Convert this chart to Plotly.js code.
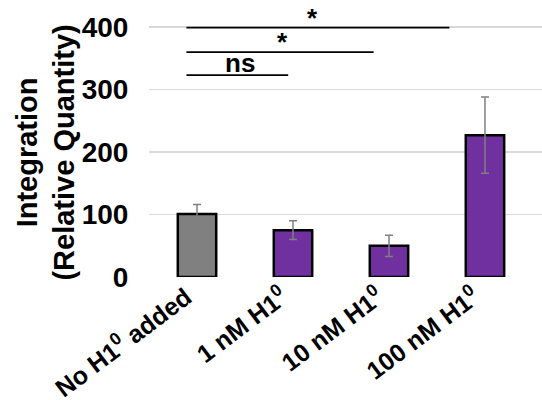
<!DOCTYPE html>
<html>
<head>
<meta charset="utf-8">
<script src="https://cdn.plot.ly/plotly-3.0.1.min.js"></script>
<style>html,body{margin:0;padding:0;background:#fff;}#chart{width:542px;height:400px;}</style>
</head>
<body>
<div id="chart"></div>
<script>
var categories = ["No H1<sup>0</sup> added", "1 nM H1<sup>0</sup>", "10 nM H1<sup>0</sup>", "100 nM H1<sup>0</sup>"];
var values = [101, 75, 50, 227];
var errors = [15, 15, 17, 61];
var barColors = ["#808080", "#7030a0", "#7030a0", "#7030a0"];
var yTicks = [0, 100, 200, 300, 400];
var yTitle = "Integration<br>(Relative Quantity)";

var font = "Liberation Sans, Arial, sans-serif";

var trace = {
  type: "bar",
  x: [0, 1, 2, 3],
  y: values,
  marker: {color: barColors, line: {color: "#000000", width: 2.5}},
  error_y: {type: "data", array: errors, visible: true, color: "#808080", thickness: 1.5, width: 4},
  width: 0.4,
  hoverinfo: "none"
};

var sigLines = [
  {x0: -0.11, x1: 2.63, y: 399, label: "*", lx: 1.2},
  {x0: -0.11, x1: 1.84, y: 360, label: "*", lx: 0.89},
  {x0: -0.11, x1: 0.95, y: 323, label: "ns", lx: 0.45}
];

var shapes = sigLines.map(function(s){
  return {type: "line", xref: "x", yref: "y", x0: s.x0, x1: s.x1, y0: s.y, y1: s.y,
          line: {color: "#000000", width: 1.8}};
});
var annotations = sigLines.map(function(s){
  return {xref: "x", yref: "y", x: s.lx, y: s.y, text: "<b>" + s.label + "</b>", showarrow: false,
          yanchor: "bottom", yshift: s.label === "*" ? -7 : -5,
          font: {family: font, size: 26, color: "#000000"}};
});
annotations.push({
  xref: "paper", yref: "paper", x: -0.263, y: 0.448, xanchor: "center", yanchor: "middle",
  text: "<b>" + yTitle + "</b>", textangle: -90, showarrow: false,
  font: {family: font, size: 29, color: "#000000"}
});

var layout = {
  width: 542, height: 400,
  margin: {l: 149, r: 0, t: 0, b: 122.7},
  paper_bgcolor: "#ffffff", plot_bgcolor: "#ffffff",
  showlegend: false,
  font: {family: font, color: "#000000"},
  xaxis: {
    range: [-0.5, 3.594],
    tickmode: "array", tickvals: [0, 1, 2, 3], ticktext: categories.map(function(c){return "<b>" + c + "</b>";}),
    tickangle: -37, tickfont: {family: font, size: 25, color: "#000000"},
    ticklabelshift: -11,
    showgrid: false, zeroline: false, showline: false, ticks: "", automargin: false
  },
  yaxis: {
    range: [0, 443.3],
    tickmode: "array", tickvals: yTicks, ticktext: yTicks.map(function(v){return "<b>" + v + "</b>";}),
    tickfont: {family: font, size: 28, color: "#000000"},
    ticks: "outside", ticklen: 14, tickcolor: "rgba(0,0,0,0)",
    showgrid: true, gridcolor: "#d9d9d9", gridwidth: 1.2,
    zeroline: false, showline: false, automargin: false
  },
  shapes: shapes,
  annotations: annotations,
  bargap: 0.6
};

Plotly.newPlot("chart", [trace], layout, {displayModeBar: false, staticPlot: true});
</script>
</body>
</html>
